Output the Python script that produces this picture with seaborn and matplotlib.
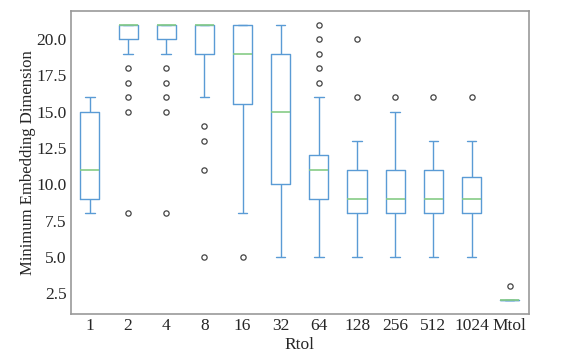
import matplotlib
matplotlib.use("Agg")
import matplotlib.pyplot as plt
import numpy as np
import pandas as pd
import seaborn as sns

# minimum embedding dimension found per trial, grouped by tolerance
categories = ["1", "2", "4", "8", "16", "32", "64", "128", "256", "512", "1024", "Mtol"]

dims_1 = [8, 9, 9, 10, 11, 13, 15, 15, 16]
dims_2 = [8, 15, 16, 17, 18, 19, 20, 20, 20, 20, 21, 21, 21, 21, 21, 21, 21, 21, 21, 21, 21, 21, 21, 21, 21]
dims_4 = [8, 15, 16, 17, 18, 19, 20, 20, 20, 20, 21, 21, 21, 21, 21, 21, 21, 21, 21, 21, 21, 21, 21, 21, 21]
dims_8 = [5, 11, 13, 14, 16, 19, 19, 20, 20, 20, 21, 21, 21, 21, 21, 21, 21, 21, 21, 21, 21]
dims_16 = [5, 8, 15, 16, 18, 19, 20, 21, 21, 21, 21]
dims_32 = [5, 7, 10, 12, 15, 17, 19, 20, 21]
dims_64 = [5, 6, 7, 8, 8, 9, 9, 9, 10, 10, 10, 11, 11, 11, 11, 12, 12, 12, 12, 16, 17, 18, 19, 20, 21]
dims_128 = [5, 6, 7, 8, 8, 9, 9, 10, 11, 11, 13, 16, 20]
dims_256 = [5, 7, 8, 9, 9, 10, 11, 15, 16]
dims_512 = [5, 7, 8, 9, 9, 10, 11, 13, 16]
dims_1024 = [5, 7, 8, 8, 9, 9, 9, 10, 11, 13, 16]
dims_mtol = [2, 2, 2, 2, 3]

all_dims = [dims_1, dims_2, dims_4, dims_8, dims_16, dims_32, dims_64,
            dims_128, dims_256, dims_512, dims_1024, dims_mtol]

rows = []
for cat, vals in zip(categories, all_dims):
    for v in vals:
        rows.append({"Rtol": cat, "dim": v})
df = pd.DataFrame(rows)

sns.set_style("white")
plt.rcParams["font.family"] = ["Liberation Serif", "DejaVu Serif"]

fig = plt.figure(figsize=(5.71, 3.64), dpi=100)
ax = fig.add_axes([0.124, 0.137, 0.802, 0.833])

blue = "#5a9bd5"
green = "#86cc86"
sns.boxplot(data=df, x="Rtol", y="dim", order=categories, ax=ax,
            fill=False, color=blue, width=0.5, linewidth=1.0, whis=1.5,
            medianprops={"color": green, "linewidth": 1.2},
            flierprops={"marker": "o", "markersize": 3.8, "markeredgecolor": "#444444",
                        "markerfacecolor": "none", "markeredgewidth": 0.9})

yticks = np.arange(2.5, 20.1, 2.5)
ax.set_yticks(yticks)
ax.set_yticklabels([f"{t:.1f}" for t in yticks])
ax.set_ylim(1.05, 21.95)
ax.set_xlim(-0.5, 11.5)
ax.tick_params(direction="in", length=2.5, width=0.8, color="#888888", labelsize=12.5, pad=3)
for sp in ax.spines.values():
    sp.set_color("#999999")
    sp.set_linewidth(1.2)

ax.set_xlabel("Rtol", fontsize=12.5, labelpad=2)
ax.set_ylabel("Minimum Embedding Dimension", fontsize=12, labelpad=0)

plt.savefig("out.png", dpi=100)
